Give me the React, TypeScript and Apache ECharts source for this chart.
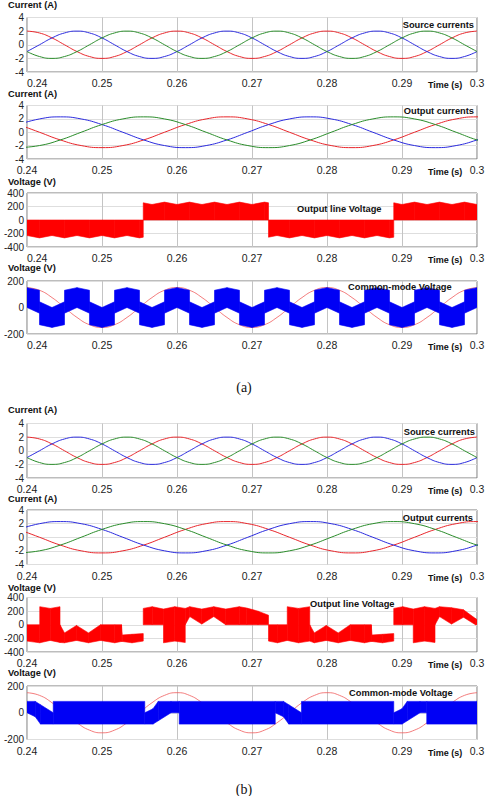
import React, { useEffect, useRef } from "react";
import * as echarts from "echarts";

// ---------- data ----------
// 50 Hz grid (12 samples per period)
const t50 = [0.24, 0.241667, 0.243333, 0.245, 0.246667, 0.248333, 0.25, 0.251667, 0.253333, 0.255, 0.256667, 0.258333,
  0.26, 0.261667, 0.263333, 0.265, 0.266667, 0.268333, 0.27, 0.271667, 0.273333, 0.275, 0.276667, 0.278333,
  0.28, 0.281667, 0.283333, 0.285, 0.286667, 0.288333, 0.29, 0.291667, 0.293333, 0.295, 0.296667, 0.298333, 0.3];
const srcRed = [2, 1.73, 1, 0, -1, -1.73, -2, -1.73, -1, 0, 1, 1.73, 2, 1.73, 1, 0, -1, -1.73, -2, -1.73, -1, 0, 1, 1.73,
  2, 1.73, 1, 0, -1, -1.73, -2, -1.73, -1, 0, 1, 1.73, 2];
const srcBlue = [-1, 0, 1, 1.73, 2, 1.73, 1, 0, -1, -1.73, -2, -1.73, -1, 0, 1, 1.73, 2, 1.73, 1, 0, -1, -1.73, -2, -1.73,
  -1, 0, 1, 1.73, 2, 1.73, 1, 0, -1, -1.73, -2, -1.73, -1];
const srcGreen = [-1, -1.73, -2, -1.73, -1, 0, 1, 1.73, 2, 1.73, 1, 0, -1, -1.73, -2, -1.73, -1, 0, 1, 1.73, 2, 1.73, 1, 0,
  -1, -1.73, -2, -1.73, -1, 0, 1, 1.73, 2, 1.73, 1, 0, -1];
const inputRef = [150, 130, 75, 0, -75, -130, -150, -130, -75, 0, 75, 130, 150, 130, 75, 0, -75, -130, -150, -130, -75, 0, 75, 130,
  150, 130, 75, 0, -75, -130, -150, -130, -75, 0, 75, 130, 150];

// 30 Hz grid (12 samples per period)
const t30 = [0.238889, 0.241667, 0.244444, 0.247222, 0.25, 0.252778, 0.255556, 0.258333, 0.261111, 0.263889, 0.266667, 0.269444,
  0.272222, 0.275, 0.277778, 0.280556, 0.283333, 0.286111, 0.288889, 0.291667, 0.294444, 0.297222, 0.3, 0.302778];
const outRed = [1.15, 0, -1.15, -1.99, -2.3, -1.99, -1.15, 0, 1.15, 1.99, 2.3, 1.99, 1.15, 0, -1.15, -1.99, -2.3, -1.99, -1.15, 0, 1.15, 1.99, 2.3, 1.99];
const outBlue = [1.15, 1.99, 2.3, 1.99, 1.15, 0, -1.15, -1.99, -2.3, -1.99, -1.15, 0, 1.15, 1.99, 2.3, 1.99, 1.15, 0, -1.15, -1.99, -2.3, -1.99, -1.15, 0];
const outGreen = [-2.3, -1.99, -1.15, 0, 1.15, 1.99, 2.3, 1.99, 1.15, 0, -1.15, -1.99, -2.3, -1.99, -1.15, 0, 1.15, 1.99, 2.3, 1.99, 1.15, 0, -1.15, -1.99];

// PWM bands: [time, low, high]
const lineVoltA = [
  [0.24, -230, 0], [0.241667, -265, 0], [0.243333, -230, 0], [0.245, -265, 0], [0.246667, -230, 0], [0.248333, -265, 0],
  [0.25, -230, 0], [0.251667, -265, 0], [0.253333, -230, 0], [0.255, -265, 0], [0.2555, -255, 0],
  [0.2555, 0, 255], [0.256667, 0, 230], [0.258333, 0, 265], [0.26, 0, 230], [0.261667, 0, 265], [0.263333, 0, 230],
  [0.265, 0, 265], [0.266667, 0, 230], [0.268333, 0, 265], [0.27, 0, 230], [0.271667, 0, 265], [0.2722, 0, 255],
  [0.2722, -255, 0], [0.273333, -230, 0], [0.275, -265, 0], [0.276667, -230, 0], [0.278333, -265, 0], [0.28, -230, 0],
  [0.281667, -265, 0], [0.283333, -230, 0], [0.285, -265, 0], [0.286667, -230, 0], [0.288333, -265, 0], [0.2889, -255, 0],
  [0.2889, 0, 255], [0.29, 0, 230], [0.291667, 0, 265], [0.293333, 0, 230], [0.295, 0, 265], [0.296667, 0, 230],
  [0.298333, 0, 265], [0.3, 0, 230],
];
const commonModeA = [
  [0.24, 0, 150], [0.241667, -43, 130], [0.241667, -130, 43], [0.243333, -150, 0], [0.245, -130, 43], [0.245, -43, 130],
  [0.246667, 0, 150], [0.248333, -43, 130], [0.248333, -130, 43], [0.25, -150, 0], [0.251667, -130, 43], [0.251667, -43, 130],
  [0.253333, 0, 150], [0.255, -43, 130], [0.255, -130, 43], [0.256667, -150, 0], [0.258333, -130, 43], [0.258333, -43, 130],
  [0.26, 0, 150], [0.261667, -43, 130], [0.261667, -130, 43], [0.263333, -150, 0], [0.265, -130, 43], [0.265, -43, 130],
  [0.266667, 0, 150], [0.268333, -43, 130], [0.268333, -130, 43], [0.27, -150, 0], [0.271667, -130, 43], [0.271667, -43, 130],
  [0.273333, 0, 150], [0.275, -43, 130], [0.275, -130, 43], [0.276667, -150, 0], [0.278333, -130, 43], [0.278333, -43, 130],
  [0.28, 0, 150], [0.281667, -43, 130], [0.281667, -130, 43], [0.283333, -150, 0], [0.285, -130, 43], [0.285, -43, 130],
  [0.286667, 0, 150], [0.288333, -43, 130], [0.288333, -130, 43], [0.29, -150, 0], [0.291667, -130, 43], [0.291667, -43, 130],
  [0.293333, 0, 150], [0.295, -43, 130], [0.295, -130, 43], [0.296667, -150, 0], [0.298333, -130, 43], [0.298333, -43, 130],
  [0.3, 0, 150],
];
const lineVoltB = [
  [0.2389, -230, 0], [0.24, -240, 0], [0.2417, -265, 0], [0.2417, -265, 265], [0.2431, -230, 240], [0.2444, -260, 265],
  [0.2444, -260, 0], [0.245, -265, -120], [0.2466, -230, -10], [0.2482, -265, -120], [0.2498, -230, 0], [0.2517, -265, 0],
  [0.2526, -245, 0], [0.2527, -245, -150], [0.254, -265, -140], [0.2555, -240, -130],
  [0.2555, 0, 240], [0.2567, 0, 265], [0.2582, 0, 230], [0.2582, -265, 230], [0.2597, -240, 265], [0.2611, -260, 240],
  [0.2611, 0, 240], [0.2617, 120, 265], [0.2633, 10, 230], [0.2649, 120, 265], [0.2665, 0, 230], [0.2683, 0, 265],
  [0.2693, 0, 245], [0.2708, 0, 200], [0.2722, 0, 140],
  [0.2722, -240, 0], [0.2734, -265, 0], [0.2747, -230, 0], [0.2747, -230, 265], [0.2762, -265, 240], [0.2777, -240, 265],
  [0.2777, -240, 0], [0.2783, -265, -120], [0.2799, -230, -10], [0.2815, -265, -120], [0.2831, -230, 0], [0.285, -265, 0],
  [0.2859, -245, 0], [0.286, -245, -150], [0.2874, -265, -140], [0.2889, -240, -130],
  [0.2889, 0, 240], [0.2901, 0, 265], [0.2915, 0, 230], [0.2915, -265, 230], [0.293, -240, 265], [0.2944, -260, 240],
  [0.2944, 0, 240], [0.295, 120, 265], [0.2966, 10, 250], [0.2982, 110, 220], [0.2998, 0, 90], [0.301, 0, 20],
];
const commonModeB = [
  [0.24, 0, 85], [0.2411, -30, 85], [0.2418, -85, 60], [0.2435, -85, 0], [0.2435, -85, 85], [0.2557, -85, 85],
  [0.2557, -85, 0], [0.2568, -85, 30], [0.2575, -60, 85], [0.2592, 0, 85], [0.2603, 0, 85], [0.2603, -85, 85],
  [0.2731, -85, 85], [0.2731, 0, 85], [0.2742, -30, 85], [0.2749, -85, 60], [0.2766, -85, 0], [0.2766, -85, 85],
  [0.2889, -85, 85], [0.2889, -85, 0], [0.29, -85, 30], [0.2907, -60, 85], [0.2924, 0, 85], [0.2933, 0, 85],
  [0.2933, -85, 85], [0.3, -85, 85],
];

const xTicks = { min: 0.24, max: 0.3, interval: 0.01 };

// ---------- layout ----------
const panels = [
  { top: 17.5, height: 54.5, min: -4, max: 4, interval: 2, title: "Current (A)", titleY: 6, note: "Source currents", noteX: 474, noteY: 25, noteAlign: "right", firstLeft: true },
  { top: 105.5, height: 53.5, min: -4, max: 4, interval: 2, title: "Current (A)", titleY: 95, note: "Output currents", noteX: 474, noteY: 110.5, noteAlign: "right", firstLeft: false },
  { top: 193, height: 54, min: -400, max: 400, interval: 200, title: "Voltage (V)", titleY: 183, note: "Output line Voltage", noteX: 297, noteY: 209, noteAlign: "left", firstLeft: true },
  { top: 281, height: 53, min: -200, max: 200, interval: 200, title: "Voltage (V)", titleY: 268.5, note: "Common-mode Voltage", noteX: 348, noteY: 286.5, noteAlign: "left", firstLeft: true },
  { top: 423.5, height: 54.5, min: -4, max: 4, interval: 2, title: "Current (A)", titleY: 410.5, note: "Source currents", noteX: 475, noteY: 431.5, noteAlign: "right", firstLeft: false },
  { top: 510, height: 54.5, min: -4, max: 4, interval: 2, title: "Current (A)", titleY: 500, note: "Output currents", noteX: 473, noteY: 517.5, noteAlign: "right", firstLeft: false },
  { top: 597.5, height: 54.5, min: -400, max: 400, interval: 200, title: "Voltage (V)", titleY: 588.5, note: "Output line Voltage", noteX: 310, noteY: 604, noteAlign: "left", firstLeft: false },
  { top: 686, height: 53.5, min: -200, max: 200, interval: 200, title: "Voltage (V)", titleY: 673.5, note: "Common-mode Voltage", noteX: 349, noteY: 692.5, noteAlign: "left", firstLeft: false },
];

const RED = "#e8262b";
const BLUE = "#2b2bde";
const GREEN = "#2a8c2a";
const FONT = "Liberation Sans";

function zip(t: number[], v: number[]) {
  return t.map((x, i) => [x, v[i]]);
}

function lineSeries(idx: number, t: number[], v: number[], color: string, width = 1, z = 3) {
  return {
    type: "line",
    xAxisIndex: idx,
    yAxisIndex: idx,
    data: zip(t, v),
    smooth: 0.5,
    showSymbol: false,
    symbol: "none",
    clip: true,
    lineStyle: { color, width },
    z,
  };
}

function bandSeries(idx: number, rows: number[][], color: string) {
  return {
    type: "custom",
    xAxisIndex: idx,
    yAxisIndex: idx,
    clip: true,
    data: rows,
    encode: { x: 0, y: [1, 2] },
    z: 2,
    renderItem: (params: any, api: any) => {
      const i = params.dataIndex;
      if (i >= rows.length - 1) return null;
      const a = rows[i];
      const b = rows[i + 1];
      if (b[0] === a[0]) return null;
      const pts = [
        api.coord([a[0], a[1]]),
        api.coord([a[0], a[2]]),
        api.coord([b[0], b[2]]),
        api.coord([b[0], b[1]]),
      ];
      return {
        type: "polygon",
        shape: { points: pts },
        style: { fill: color, stroke: color, lineWidth: 0.6 },
      };
    },
  };
}

export default function App() {
  const ref = useRef<HTMLDivElement>(null);
  useEffect(() => {
    if (!ref.current) return;
    const chart = echarts.init(ref.current, null, { renderer: "svg" });

    const grids = panels.map((p) => ({
      left: 27,
      right: 11,
      top: p.top,
      height: p.height,
      show: true,
      borderColor: "#7a7a7a",
      borderWidth: 1,
      backgroundColor: "#fff",
    }));
    const xAxes = panels.map((p, i) => ({
      type: "value",
      gridIndex: i,
      min: xTicks.min,
      max: xTicks.max,
      interval: xTicks.interval,
      axisLine: { show: false },
      axisTick: { show: false },
      splitLine: { show: true, lineStyle: { color: "#c4c4c4", width: 1 } },
      axisLabel: {
        fontFamily: FONT,
        fontSize: 10.5,
        color: "#222",
        margin: 5.5,
        showMinLabel: true,
        showMaxLabel: true,
        alignMinLabel: p.firstLeft ? "left" : "center",
        formatter: (v: number) => String(Number(v.toFixed(2))),
      },
    }));
    const yAxes = panels.map((p, i) => ({
      type: "value",
      gridIndex: i,
      min: p.min,
      max: p.max,
      interval: p.interval,
      axisLine: { show: false },
      axisTick: { show: false },
      splitLine: { show: true, lineStyle: { color: "#dedede", width: 1 } },
      axisLabel: { fontFamily: FONT, fontSize: 10, color: "#222", margin: 3 },
    }));

    const series: any[] = [
      lineSeries(0, t50, srcRed, RED),
      lineSeries(0, t50, srcBlue, BLUE),
      lineSeries(0, t50, srcGreen, GREEN),
      lineSeries(1, t30, outRed, RED),
      lineSeries(1, t30, outBlue, BLUE),
      lineSeries(1, t30, outGreen, GREEN),
      bandSeries(2, lineVoltA, "#ff0000"),
      lineSeries(3, t50, inputRef, "#f05a5a", 0.8, 1),
      bandSeries(3, commonModeA, "#0000f5"),
      lineSeries(4, t50, srcRed, RED),
      lineSeries(4, t50, srcBlue, BLUE),
      lineSeries(4, t50, srcGreen, GREEN),
      lineSeries(5, t30, outRed, RED),
      lineSeries(5, t30, outBlue, BLUE),
      lineSeries(5, t30, outGreen, GREEN),
      bandSeries(6, lineVoltB, "#ff0000"),
      lineSeries(7, t50, inputRef, "#f05a5a", 0.8, 1),
      bandSeries(7, commonModeB, "#0000f5"),
    ];

    const graphic: any[] = [];
    panels.forEach((p) => {
      graphic.push({
        type: "text",
        left: 8,
        top: p.titleY - 5.5,
        style: { text: p.title, font: `bold 9.3px ${FONT}`, fill: "#111" },
        z: 10,
      });
      graphic.push({
        type: "text",
        x: p.noteX,
        y: p.noteY,
        style: {
          text: p.note,
          font: `bold 9.3px ${FONT}`,
          fill: "#111",
          align: p.noteAlign,
          verticalAlign: "middle",
        },
        z: 10,
      });
      graphic.push({
        type: "text",
        x: 428,
        y: p.top + p.height + 13,
        style: { text: "Time (s)", font: `bold 9px ${FONT}`, fill: "#111", verticalAlign: "middle" },
        z: 10,
      });
    });
    graphic.push({
      type: "text",
      x: 244,
      y: 387,
      style: { text: "(a)", font: `14px "Liberation Serif"`, fill: "#111", align: "center", verticalAlign: "middle" },
    });
    graphic.push({
      type: "text",
      x: 244,
      y: 789,
      style: { text: "(b)", font: `14px "Liberation Serif"`, fill: "#111", align: "center", verticalAlign: "middle" },
    });

    chart.setOption({
      animation: false,
      backgroundColor: "#ffffff",
      grid: grids,
      xAxis: xAxes,
      yAxis: yAxes,
      series,
      graphic,
    });
    return () => chart.dispose();
  }, []);
  return (
    <div
      ref={ref}
      style={{ position: "fixed", left: 0, top: 0, width: 488, height: 796, background: "#fff" }}
    />
  );
}
